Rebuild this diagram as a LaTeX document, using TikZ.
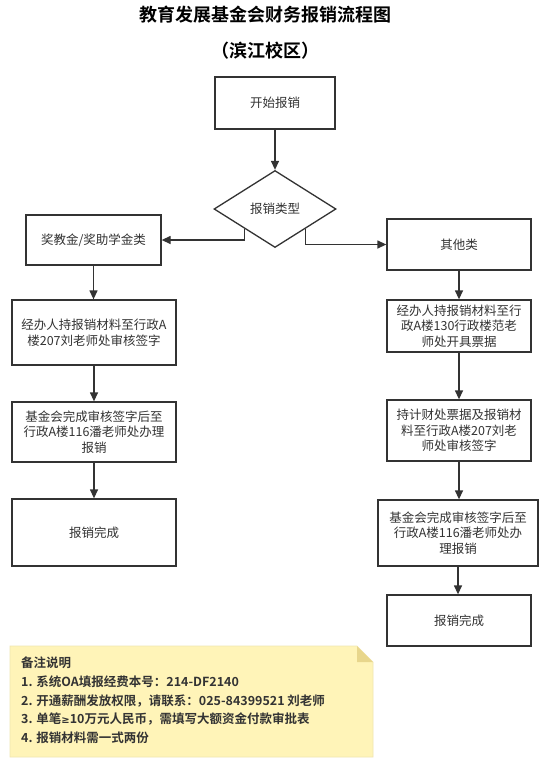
\documentclass[tikz,border=0pt]{standalone}
\usepackage{fontspec}
\setmainfont{Noto Sans CJK SC}[BoldFont={Noto Sans CJK SC Bold}]
\newfontfamily\dvfont{DejaVu Sans}
\usetikzlibrary{arrows.meta,shapes.geometric}
\definecolor{ln}{HTML}{333333}
\definecolor{tx}{HTML}{333333}
\definecolor{notefill}{HTML}{FFF4B8}
\definecolor{notefold}{HTML}{E8D68C}
\definecolor{noteedge}{HTML}{F0E6B0}
\tikzset{
  box/.style={draw=ln, line width=1.3pt, fill=white, rectangle, align=center, text=tx,
    font=\fontsize{12.5}{15.5}\selectfont, inner sep=0pt},
  dia/.style={draw=ln, line width=1.3pt, fill=white, diamond, text=tx, aspect=1.58,
    font=\fontsize{12.5}{15.5}\selectfont, inner sep=0pt},
  arr/.style={draw=ln, line width=1.3pt, -{Triangle[length=9pt,width=8pt]}},
  ttl/.style={font=\fontsize{18}{20}\selectfont\bfseries, text=black, inner sep=0pt},
  notetext/.style={font=\fontsize{12.5}{18.6}\selectfont\bfseries, text=tx, align=left, inner sep=0pt, anchor=north west}
}
\begin{document}
\begin{tikzpicture}[x=1pt,y=-1pt]
\useasboundingbox[fill=white] (0,0) rectangle (552,761);
\node[ttl] (title) at (265,15) {教育发展基金会财务报销流程图};
\node[ttl] (sub) at (265,51) {（滨江校区）};

\node[box, minimum width=120pt, minimum height=52pt] (start) at (275,103) {开始报销};
\node[dia, minimum width=122pt, minimum height=77pt] (d) at (275,209) {报销类型};

\node[box, minimum width=135pt, minimum height=50pt] (L1) at (93.5,240) {奖教金/奖助学金类};
\node[box, minimum width=164pt, minimum height=65pt] (L2) at (94,332.5) {经办人持报销材料至行政A\\楼207刘老师处审核签字};
\node[box, minimum width=164pt, minimum height=60pt] (L3) at (94,432) {基金会完成审核签字后至\\行政A楼116潘老师处办理\\报销};
\node[box, minimum width=164pt, minimum height=67pt] (L4) at (94,532.5) {报销完成};

\node[box, minimum width=144pt, minimum height=51pt] (R1) at (459,244.5) {其他类};
\node[box, minimum width=144pt, minimum height=52pt] (R2) at (459,326) {经办人持报销材料至行\\政A楼130行政楼范老\\师处开具票据};
\node[box, minimum width=144pt, minimum height=61pt] (R3) at (459,430.5) {持计财处票据及报销材\\料至行政A楼207刘老\\师处审核签字};
\node[box, minimum width=160pt, minimum height=66pt] (R4) at (458,533) {基金会完成审核签字后至\\行政A楼116潘老师处办\\理报销};
\node[box, minimum width=144pt, minimum height=51pt] (R5) at (459,620.5) {报销完成};

\draw[arr] (start.south) -- (d.north);
\draw[arr] (d.south west) |- (L1.east);
\draw[arr] (d.south east) |- (R1.west);
\draw[arr] (L1.south) -- (L1.south |- L2.north);
\draw[arr] (L2.south) -- (L2.south |- L3.north);
\draw[arr] (L3.south) -- (L3.south |- L4.north);
\draw[arr] (R1.south) -- (R1.south |- R2.north);
\draw[arr] (R2.south) -- (R2.south |- R3.north);
\draw[arr] (R3.south) -- (R3.south |- R4.north);
\draw[arr] (R4.south) -- (R4.south |- R5.north);

% note
\coordinate (n1) at (10,646);
\coordinate (n2) at (357,646);
\coordinate (n3) at (373,662);
\coordinate (n4) at (373,757);
\coordinate (n5) at (10,757);
\fill[notefill, draw=noteedge, line width=0.6pt] (n1) -- (n2) -- (n3) -- (n4) -- (n5) -- cycle;
\fill[notefold] (n2) -- (n3) -- (n2 |- n3) -- cycle;
\node[notetext] (note) at (21,657) {备注说明\\1. 系统OA填报经费本号：214-DF2140\\2. 开通薪酬发放权限，请联系：025-84399521 刘老师\\3. 单笔{\dvfont\fontsize{10}{10}\selectfont ≥}10万元人民币，需填写大额资金付款审批表\\4. 报销材料需一式两份};
\end{tikzpicture}
\end{document}
